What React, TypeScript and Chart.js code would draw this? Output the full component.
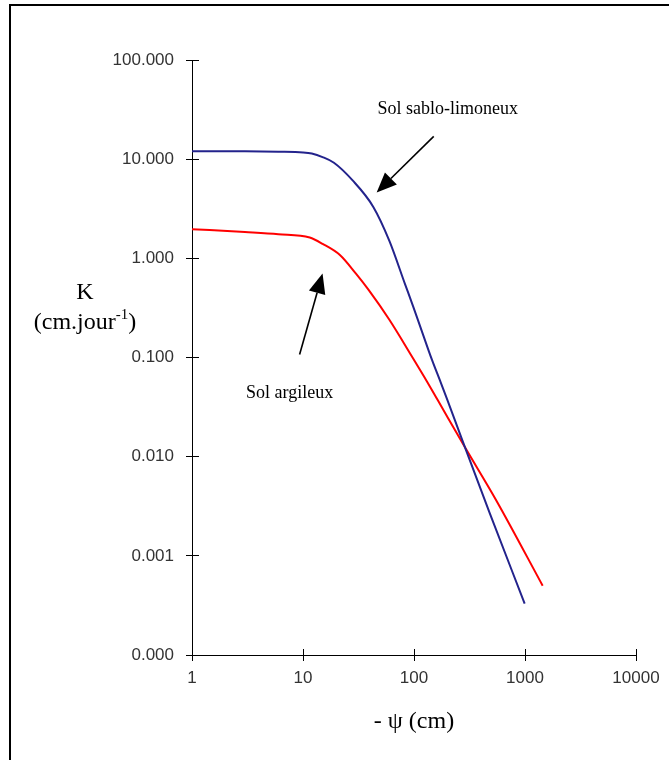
import React, { useEffect, useRef } from 'react';
import { Chart, registerables } from 'chart.js';

Chart.register(...registerables);

// ---- data ----
const X_TICKS = [1, 10, 100, 1000, 10000];
const Y_TICKS = [0.0001, 0.001, 0.01, 0.1, 1, 10, 100];

const SANDY_PSI = [1, 3, 6, 10, 12, 15, 19, 28, 43, 60, 83, 98, 113, 145, 171, 197, 268, 481, 993];
const SANDY_K = [12.0, 12.0, 11.9, 11.7, 11.4, 10.5, 9.2, 6.1, 3.3, 1.5, 0.55, 0.33, 0.21, 0.095, 0.059, 0.039, 0.0154, 0.0027, 0.00033];

const CLAY_PSI = [1, 3, 6, 11.5, 15, 21.5, 30, 39, 60, 97, 130, 164, 287, 553, 1443];
const CLAY_K = [1.97, 1.84, 1.75, 1.62, 1.4, 1.08, 0.7, 0.48, 0.24, 0.1, 0.058, 0.037, 0.0125, 0.0036, 0.0005];

const SANDY_LABEL = 'Sol sablo-limoneux';
const CLAY_LABEL = 'Sol argileux';
const SANDY_LABEL_AT = [201, 31.8];
const CLAY_LABEL_AT = [7.57, 0.0432];
const SANDY_ARROW = [[150.6, 17.0], [46.1, 4.61]];
const CLAY_ARROW = [[9.32, 0.107], [15.0, 0.703]];

const Y_TITLE = 'K';
const Y_UNIT_A = '(cm.jour';
const Y_UNIT_SUP = '-1';
const Y_UNIT_B = ')';
const X_TITLE = '- \u03c8 (cm)';

const SERIF = '"Liberation Serif", "Times New Roman", serif';
const SANS = '"Liberation Sans", Arial, sans-serif';

const align = (p: number) => Math.round(p - 0.5) + 0.5;

function drawArrow(ctx: CanvasRenderingContext2D, x1: number, y1: number, x2: number, y2: number) {
  const a = Math.atan2(y2 - y1, x2 - x1);
  const L = 20;
  const W = 8.5;
  const bx = x2 - L * Math.cos(a);
  const by = y2 - L * Math.sin(a);
  ctx.beginPath();
  ctx.moveTo(x1, y1);
  ctx.lineTo(bx, by);
  ctx.lineWidth = 1.6;
  ctx.strokeStyle = '#000';
  ctx.stroke();
  ctx.beginPath();
  ctx.moveTo(x2, y2);
  ctx.lineTo(bx - W * Math.sin(a), by + W * Math.cos(a));
  ctx.lineTo(bx + W * Math.sin(a), by - W * Math.cos(a));
  ctx.closePath();
  ctx.fillStyle = '#000';
  ctx.fill();
}

const annotPlugin = {
  id: 'annot',
  afterDraw(chart: any) {
    const { ctx, chartArea } = chart;
    const xs = chart.scales.x;
    const ys = chart.scales.y;
    ctx.save();
    // inner half of tick marks
    ctx.strokeStyle = '#000';
    ctx.lineWidth = 1;
    ctx.beginPath();
    X_TICKS.forEach((v) => {
      const px = align(xs.getPixelForValue(v));
      ctx.moveTo(px, chartArea.bottom);
      ctx.lineTo(px, chartArea.bottom - 6);
    });
    Y_TICKS.forEach((v) => {
      const py = align(ys.getPixelForValue(v));
      ctx.moveTo(chartArea.left, py);
      ctx.lineTo(chartArea.left + 7, py);
    });
    ctx.stroke();

    // arrows
    [SANDY_ARROW, CLAY_ARROW].forEach(([t, h]) => {
      drawArrow(
        ctx,
        xs.getPixelForValue(t[0]),
        ys.getPixelForValue(t[1]),
        xs.getPixelForValue(h[0]),
        ys.getPixelForValue(h[1])
      );
    });

    // labels
    ctx.fillStyle = '#000';
    ctx.font = `18px ${SERIF}`;
    ctx.textAlign = 'center';
    ctx.textBaseline = 'middle';
    ctx.fillText(SANDY_LABEL, xs.getPixelForValue(SANDY_LABEL_AT[0]), ys.getPixelForValue(SANDY_LABEL_AT[1]));
    ctx.fillText(CLAY_LABEL, xs.getPixelForValue(CLAY_LABEL_AT[0]), ys.getPixelForValue(CLAY_LABEL_AT[1]));

    // y title
    const cx = chartArea.left - 107;
    ctx.font = `24px ${SERIF}`;
    ctx.fillText(Y_TITLE, cx, chartArea.top + 233);
    ctx.textAlign = 'left';
    const wA = ctx.measureText(Y_UNIT_A).width;
    const wB = ctx.measureText(Y_UNIT_B).width;
    ctx.font = `15px ${SERIF}`;
    const wS = ctx.measureText(Y_UNIT_SUP).width;
    const total = wA + wS + wB;
    let sx = cx - total / 2;
    const ly = chartArea.top + 263;
    ctx.font = `24px ${SERIF}`;
    ctx.fillText(Y_UNIT_A, sx, ly);
    sx += wA;
    ctx.font = `15px ${SERIF}`;
    ctx.fillText(Y_UNIT_SUP, sx, ly - 8);
    sx += wS;
    ctx.font = `24px ${SERIF}`;
    ctx.fillText(Y_UNIT_B, sx, ly);

    // x title
    ctx.textAlign = 'center';
    ctx.fillText(X_TITLE, (chartArea.left + chartArea.right) / 2, chartArea.bottom + 67);
    ctx.restore();
  },
};

export default function App() {
  const ref = useRef<HTMLCanvasElement>(null);
  useEffect(() => {
    document.body.style.overflow = 'hidden';
    const chart = new Chart(ref.current!, {
      type: 'line',
      data: {
        datasets: [
          {
            label: SANDY_LABEL,
            data: SANDY_PSI.map((x, i) => ({ x, y: SANDY_K[i] })),
            borderColor: '#23238c',
            borderWidth: 2,
            pointRadius: 0,
            cubicInterpolationMode: 'monotone',
            fill: false,
          },
          {
            label: CLAY_LABEL,
            data: CLAY_PSI.map((x, i) => ({ x, y: CLAY_K[i] })),
            borderColor: '#ff0000',
            borderWidth: 2,
            pointRadius: 0,
            cubicInterpolationMode: 'monotone',
            fill: false,
          },
        ],
      },
      options: {
        animation: false,
        responsive: false,
        devicePixelRatio: 1,
        layout: { padding: { left: 0, top: 60, right: 33, bottom: 0 } },
        plugins: { legend: { display: false }, tooltip: { enabled: false } },
        scales: {
          x: {
            type: 'logarithmic',
            min: 1,
            max: 10000,
            afterBuildTicks: (s: any) => {
              s.ticks = X_TICKS.map((v) => ({ value: v }));
            },
            afterFit: (s: any) => {
              s.height = 105;
            },
            ticks: {
              callback: (v: any) => String(v),
              font: { family: SANS, size: 17 },
              color: '#333',
              padding: 7,
              maxRotation: 0,
              autoSkip: false,
            },
            grid: { drawOnChartArea: false, drawTicks: true, tickLength: 6, color: '#000' },
            border: { display: true, color: '#000', width: 1 },
          },
          y: {
            type: 'logarithmic',
            min: 0.0001,
            max: 100,
            afterBuildTicks: (s: any) => {
              s.ticks = Y_TICKS.map((v) => ({ value: v }));
            },
            afterFit: (s: any) => {
              s.width = 192;
            },
            ticks: {
              callback: (v: any) => Number(v).toFixed(3),
              font: { family: SANS, size: 17 },
              color: '#333',
              padding: 12,
              autoSkip: false,
            },
            grid: { drawOnChartArea: false, drawTicks: true, tickLength: 6, color: '#000' },
            border: { display: true, color: '#000', width: 1 },
          },
        },
      },
      plugins: [annotPlugin],
    } as any);
    return () => chart.destroy();
  }, []);

  return (
    <div style={{ position: 'absolute', left: 0, top: 0, width: 669, height: 760, overflow: 'hidden', background: '#fff' }}>
      <div
        style={{
          position: 'absolute',
          left: 9,
          top: 4,
          width: 720,
          height: 820,
          border: '2px solid #000',
          boxSizing: 'border-box',
        }}
      />
      <canvas ref={ref} width={669} height={760} style={{ position: 'absolute', left: 0, top: 0, width: 669, height: 760 }} />
    </div>
  );
}
